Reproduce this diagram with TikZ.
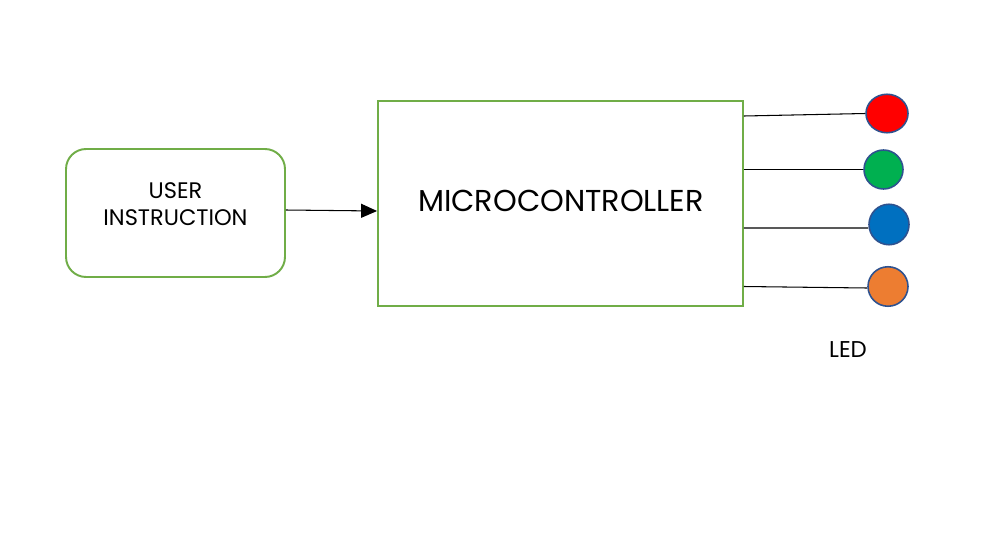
\documentclass[tikz,border=0pt]{standalone}
\usepackage{fontspec}
\setmainfont{Poppins}
\usetikzlibrary{arrows.meta}
\definecolor{boxgreen}{HTML}{70AD47}
\definecolor{ledred}{HTML}{FF0000}
\definecolor{ledgreen}{HTML}{00B050}
\definecolor{ledblue}{HTML}{0070C0}
\definecolor{ledorange}{HTML}{ED7D31}
\definecolor{ledrim}{HTML}{2F528F}
\tikzset{
  gbox/.style={draw=boxgreen, line width=1.1pt, fill=white, inner sep=0pt},
  led/.style={ellipse, draw=ledrim, line width=0.9pt, inner sep=0pt},
  wire/.style={draw=black, line width=0.6pt},
  lbl/.style={inner sep=0pt, text=black},
}
\usetikzlibrary{shapes.geometric}
\begin{document}
\begin{tikzpicture}[x=0.02cm,y=-0.02cm]
\useasboundingbox[fill=white] (0,0) rectangle (1000,548);
% user instruction box
\node[gbox, rounded corners=0.4cm, minimum width=4.38cm, minimum height=2.56cm] (user) at (175.5,213) {};
\node[lbl, align=center, font=\fontsize{12.8pt}{15.3pt}\selectfont] (usertext) at (175.5,204.5) {USER\\INSTRUCTION};
% microcontroller box
\node[gbox, minimum width=7.3cm, minimum height=4.1cm] (micro) at (560.5,203.5) {};
\node[lbl, font=\fontsize{17.2pt}{20pt}\selectfont] (microtext) at (561,201) {MICROCONTROLLER};
% LEDs
\node[led, fill=ledred, minimum width=0.84cm, minimum height=0.77cm] (red) at (887,113.5) {};
\node[led, fill=ledgreen, minimum width=0.78cm, minimum height=0.78cm] (green) at (883.5,169.5) {};
\node[led, fill=ledblue, minimum width=0.80cm, minimum height=0.81cm] (blue) at (889,224.5) {};
\node[led, fill=ledorange, minimum width=0.80cm, minimum height=0.79cm] (orange) at (888,286.5) {};
\node[lbl, font=\fontsize{13pt}{15pt}\selectfont] (ledtext) at (848,350) {LED};
% connectors
\draw[wire, -{Triangle[length=0.32cm,width=0.28cm]}] ([yshift=0.06cm]user.east) -- ([yshift=-0.15cm]micro.west);
\draw[wire] (micro.east |- 0,116) -- (red.west);
\draw[wire] (micro.east |- green.west) -- (green.west);
\draw[wire] (micro.east |- 0,228) -- ([yshift=-0.07cm]blue.west);
\draw[wire] (micro.east |- 0,286.5) -- ([yshift=-0.03cm]orange.west);
\end{tikzpicture}
\end{document}
